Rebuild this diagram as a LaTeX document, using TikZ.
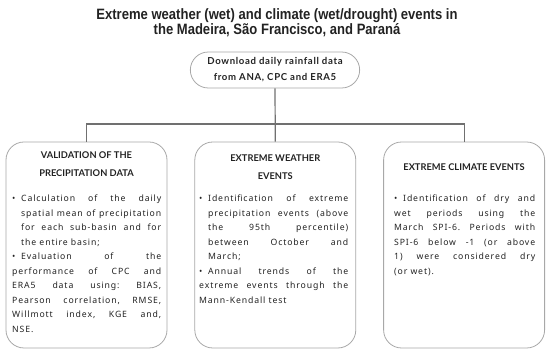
\documentclass[tikz,border=0pt]{standalone}
\usepackage{fontspec}
\setmainfont{Lato}
\newfontfamily\titlefont{Liberation Sans}[FakeStretch=0.87]
\newfontfamily\bodyfont{Noto Sans}[LetterSpace=10]
\newfontfamily\pillfont{Lato}[LetterSpace=7]
\usetikzlibrary{positioning,shapes.misc}
\definecolor{boxgray}{HTML}{A8A8A8}
\definecolor{linkgray}{HTML}{707070}
\definecolor{inkgray}{HTML}{222222}
\newcommand{\bitem}{\par\noindent\hangindent=9pt\hangafter=1\makebox[9pt][l]{\textbullet}}
\tikzset{
    stage/.style={draw=boxgray,line width=0.8pt,rounded corners=18pt,minimum width=161pt,minimum height=206pt},
    source/.style={draw=boxgray,line width=0.8pt,rounded rectangle,minimum width=176pt,minimum height=36pt,align=center,font=\pillfont\bfseries\fontsize{9.6}{16}\selectfont},
    head/.style={align=center,inner sep=0pt,font=\bfseries\fontsize{9.3}{18}\selectfont},
    body/.style={text width=149pt,align=justify,inner sep=0pt,anchor=north west,
        font=\bodyfont\fontsize{8.7}{14.5}\selectfont,
        execute at begin node={\frenchspacing\hyphenpenalty=10000\exhyphenpenalty=10000\tolerance=10000}},
    link/.style={draw=linkgray,line width=1.2pt},
}
\begin{document}
\begin{tikzpicture}[x=1pt,y=1pt,color=inkgray]
    \useasboundingbox (0,0) rectangle (550,353);
    \node[align=center,font=\titlefont\bfseries\fontsize{15}{14}\selectfont] (title) at (277,330)
        {Extreme weather (wet) and climate (wet/drought) events in\\the Madeira, São Francisco, and Paraná};
    \node[source] (download) at (275,283) {Download daily rainfall data\\from ANA, CPC and ERA5};

    \node[stage] (valid) at (86.5,108) {};
    \node[stage,right=27pt of valid] (weather) {};
    \node[stage,right=27pt of weather] (climate) {};

    \coordinate (bus) at (download.south |- 0,229);
    \draw[link] (download.south) -- (weather.north);
    \draw[link] (valid.north) |- (bus) -| (climate.north);

    \node[head] (validhead) at (valid.north |- 0,189) {VALIDATION OF THE\\PRECIPITATION DATA};
    \node[head] (weatherhead) at (weather.north |- 0,186) {EXTREME WEATHER\\EVENTS};
    \node[head] (climatehead) at (climate.north |- 0,186) {EXTREME CLIMATE EVENTS};

    \node[body] (validbody) at (12,166) {%
        \bitem Calculation of the daily \linebreak spatial mean of precipitation \linebreak for each sub-basin and for \linebreak the entire basin;
        \bitem Evaluation of the \linebreak performance of CPC and \linebreak ERA5 data using: BIAS, \linebreak Pearson correlation, RMSE, \linebreak Willmott index, KGE and, \linebreak NSE.};
    \node[body] (weatherbody) at (199,166) {%
        \bitem Identification of extreme \linebreak precipitation events (above \linebreak the 95th percentile) \linebreak between October and \linebreak March;
        \bitem Annual trends of the \linebreak extreme events through the \linebreak Mann-Kendall test};
    \node[body,text width=141pt] (climatebody) at (394,166) {%
        \bitem Identification of dry and \linebreak wet periods using the \linebreak March SPI-6. Periods with \linebreak SPI-6 below -1 (or above \linebreak 1) were considered dry \linebreak (or wet).};
\end{tikzpicture}
\end{document}
